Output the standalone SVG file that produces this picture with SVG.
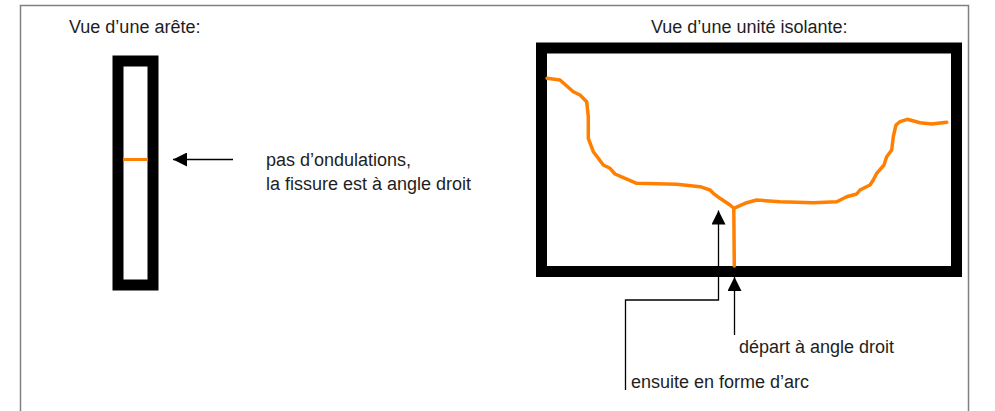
<svg xmlns="http://www.w3.org/2000/svg" width="995" height="411" viewBox="0 0 995 411">
<style>
text { font-family: "Liberation Sans", Arial, sans-serif; font-size: 18px; fill: #1e1e1e; }
.frame { fill: none; stroke: #808080; stroke-width: 1.5; }
.box { fill: #ffffff; stroke: #000000; stroke-width: 11; }
.crack { fill: none; stroke: #FF8000; stroke-width: 3.5; stroke-linejoin: round; stroke-linecap: round; }
.conn { fill: none; stroke: #000000; stroke-width: 1.3; }
</style>
<defs>
<marker id="ah" viewBox="0 0 14 14" refX="14" refY="7" markerWidth="14" markerHeight="14" markerUnits="userSpaceOnUse" orient="auto">
<path d="M0,0 L14,7 L0,14 Z" fill="#000"/>
</marker>
</defs>
<rect width="995" height="411" fill="#ffffff"/>
<path class="frame" d="M20.5,411 V5.5 H968.5 V411"/>

<g id="edge-view">
<text x="69" y="33">Vue d’une arête:</text>
<rect class="box" x="118" y="61" width="35" height="224"/>
<path d="M123,159.5 H148" stroke="#FF8000" stroke-width="3"/>
</g>

<g id="unit-view">
<text x="651" y="33">Vue d’une unité isolante:</text>
<rect class="box" x="541.5" y="48" width="415" height="223.5"/>
<path class="crack" d="M547,78.3 L560,80 L573.3,91.7 L580,95 L586.7,101.7 L588.3,116.7 L588.3,138.3 L593.3,151.7 L598.3,158.3 L603.3,165 L610,168.3 L615,174 L623.3,177.7 L636.7,183.3 L676.7,184.3 L700,186.7 L710,190 L713.3,193.3 L720,198.3 L730,205 L733.8,208.3"/>
<path class="crack" d="M733.8,208.3 L734.3,266"/>
<path class="crack" d="M733.8,208.3 L746.7,202.7 L756.7,200 L780,201.7 L813.3,202.7 L836.7,201.7 L846.7,196.7 L856.7,194 L860,190 L870,185 L873.3,180 L876.7,173.3 L884,165 L886.7,156.7 L891.7,150 L893.3,136.7 L896,125 L900,121.7 L907.3,119.3 L920,122.7 L931.7,124 L946.7,122.3"/>
</g>

<g id="label-edge">
<text x="266" y="166">pas d’ondulations,</text>
<text x="266" y="190">la fissure est à angle droit</text>
</g>
<g id="label-depart">
<text x="739" y="353">départ à angle droit</text>
</g>
<g id="label-arc">
<text x="631" y="388">ensuite en forme d’arc</text>
</g>

<g id="connectors">
<path class="conn" d="M233,159.5 H173" marker-end="url(#ah)"/>
<path class="conn" d="M625.5,390 V300 H718.5 V210.5" marker-end="url(#ah)"/>
<path class="conn" d="M734.5,335 V277" marker-end="url(#ah)"/>
</g>
</svg>
